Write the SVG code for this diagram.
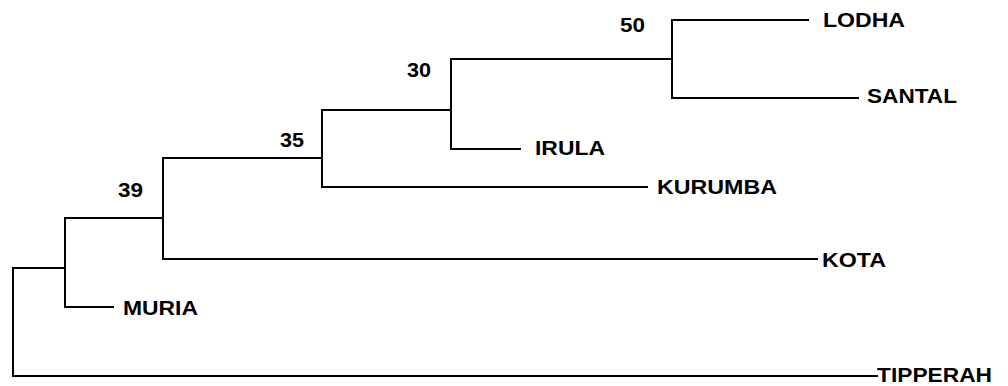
<svg xmlns="http://www.w3.org/2000/svg" width="1008" height="386" viewBox="0 0 1008 386">
<style>
.e{fill:none;stroke:#000;stroke-width:2;stroke-linecap:square}
.t{font-family:"Liberation Sans",Arial,sans-serif;font-weight:bold;font-size:20px;fill:#000}
</style>
<rect width="1008" height="386" fill="#fff"/>
<g id="connectors">
<path class="e" d="M65,268 H13 V376 H877"/>
<path class="e" d="M163,218 H65 V307 H113"/>
<path class="e" d="M322,158 H163 V259 H817"/>
<path class="e" d="M451,110 H322 V187 H647"/>
<path class="e" d="M672,59 H451 V149 H520"/>
<path class="e" d="M808,20 H672 V98 H858"/>
</g>
<g id="n39"><text class="t" x="118" y="197" textLength="25" lengthAdjust="spacingAndGlyphs">39</text></g>
<g id="n35"><text class="t" x="280" y="147" textLength="24" lengthAdjust="spacingAndGlyphs">35</text></g>
<g id="n30"><text class="t" x="407" y="77" textLength="24" lengthAdjust="spacingAndGlyphs">30</text></g>
<g id="n50"><text class="t" x="620" y="32" textLength="25" lengthAdjust="spacingAndGlyphs">50</text></g>
<g id="lodha"><text class="t" x="823" y="27" textLength="82" lengthAdjust="spacingAndGlyphs">LODHA</text></g>
<g id="santal"><text class="t" x="867" y="103" textLength="90" lengthAdjust="spacingAndGlyphs">SANTAL</text></g>
<g id="irula"><text class="t" x="535" y="155" textLength="70" lengthAdjust="spacingAndGlyphs">IRULA</text></g>
<g id="kurumba"><text class="t" x="657" y="194" textLength="120" lengthAdjust="spacingAndGlyphs">KURUMBA</text></g>
<g id="kota"><text class="t" x="822" y="267" textLength="64" lengthAdjust="spacingAndGlyphs">KOTA</text></g>
<g id="muria"><text class="t" x="123" y="315" textLength="75" lengthAdjust="spacingAndGlyphs">MURIA</text></g>
<g id="tipperah"><text class="t" x="877" y="382" textLength="115" lengthAdjust="spacingAndGlyphs">TIPPERAH</text></g>
</svg>
